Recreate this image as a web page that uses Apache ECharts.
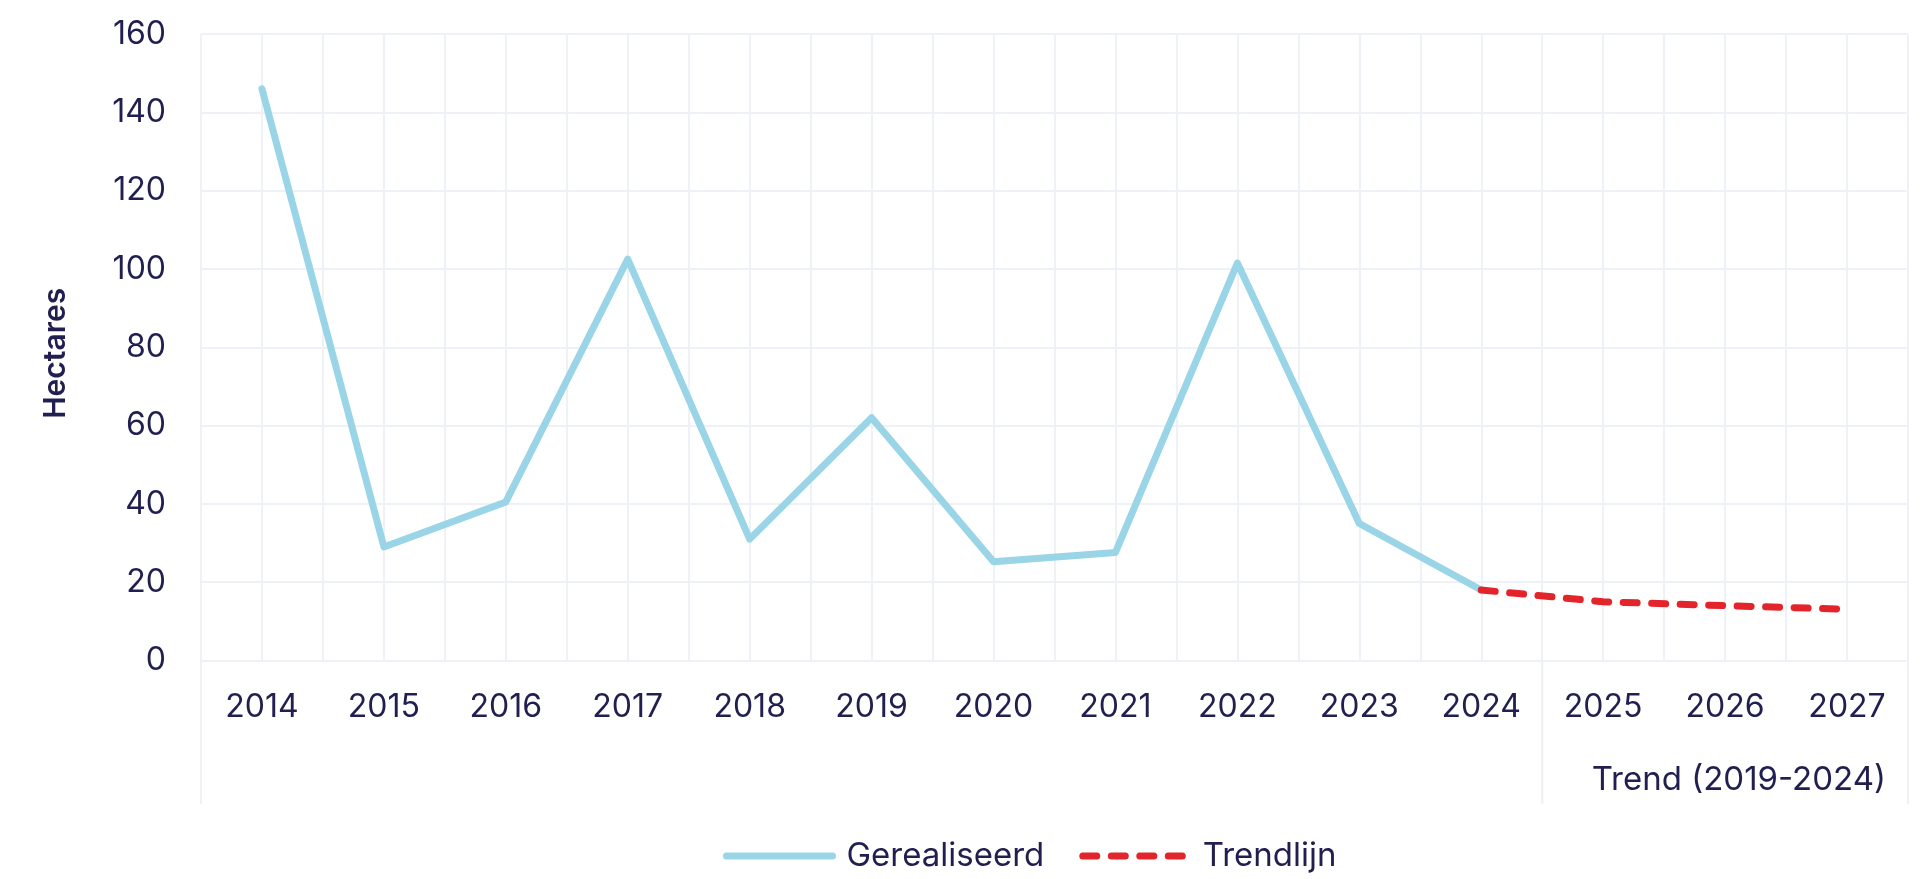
<!DOCTYPE html>
<html>
<head>
<meta charset="utf-8">
<title>Hectares</title>
<script src="https://cdn.jsdelivr.net/npm/echarts@6/dist/echarts.min.js"></script>
<style>
  html, body { margin: 0; padding: 0; background: #fff; }
  #chart { width: 1926px; height: 879px; }
</style>
</head>
<body>
<div id="chart"></div>
<script>
// data
const years = ['2014', '2015', '2016', '2017', '2018', '2019', '2020', '2021', '2022', '2023', '2024', '2025', '2026', '2027'];
const realised = [146, 29, 40.5, 102.5, 31, 62, 25.2, 27.6, 101.5, 35, 18];
const trendStart = 10; // trend starts at 2024
const trend = [18, 15, 14, 13.1];
// second level of the x axis (index ranges in years)
const groups = [
  { label: '', from: 0, to: 10 },
  { label: 'Trend (2019-2024)', from: 11, to: 13 }
];
const yMin = 0, yMax = 160, yStep = 20;

const textColor = '#211f4f';
const gridColor = '#eef1f6';
const blue = '#99d5e6';
const red = '#e3252b';
const dash = [14, 14.5];
const font = 'Inter, "Noto Sans", sans-serif';

const chart = echarts.init(document.getElementById('chart'));

chart.setOption({
  animation: false,
  textStyle: { fontFamily: font, color: textColor },
  grid: [
    { left: 201, right: 18, top: 34, height: 626.5 },
    { left: 201, right: 18, top: 660.5, height: 143.5 }
  ],
  legend: {
    left: 723,
    top: 838,
    padding: 0,
    itemWidth: 106,
    itemHeight: 14,
    itemGap: 35,
    itemStyle: { opacity: 0 },
    textStyle: { fontSize: 33, color: textColor, lineHeight: 36, padding: [0, 0, 0, 9] },
    data: [
      { name: 'Gerealiseerd', lineStyle: { width: 7, cap: 'round', color: blue } },
      { name: 'Trendlijn', lineStyle: { width: 7, cap: 'round', type: dash, color: red } }
    ]
  },
  xAxis: [
    {
      gridIndex: 0,
      type: 'value',
      min: -0.5,
      max: years.length - 0.5,
      interval: 0.5,
      axisLine: { show: false },
      axisTick: { show: false },
      splitLine: { show: true, lineStyle: { color: gridColor, width: 2 } },
      axisLabel: {
        fontSize: 32,
        color: textColor,
        margin: 31,
        formatter: (v) => Number.isInteger(v) ? years[v] : ''
      }
    },
    {
      gridIndex: 1,
      type: 'value',
      min: -0.5,
      max: years.length - 0.5,
      show: false
    }
  ],
  yAxis: [
    {
      gridIndex: 0,
      type: 'value',
      min: yMin,
      max: yMax,
      interval: yStep,
      name: 'Hectares',
      nameLocation: 'middle',
      nameRotate: 90,
      nameGap: 130,
      nameTextStyle: { fontSize: 30, fontWeight: 600, color: textColor, padding: [0, 12, 0, 0] },
      axisLine: { show: false },
      axisTick: { show: false },
      splitLine: { show: true, lineStyle: { color: gridColor, width: 2 } },
      axisLabel: { fontSize: 32, color: textColor, margin: 35 }
    },
    { gridIndex: 1, type: 'value', min: 0, max: 1, show: false }
  ],
  series: [
    {
      name: 'Gerealiseerd',
      type: 'line',
      xAxisIndex: 0,
      yAxisIndex: 0,
      symbol: 'none',
      color: blue,
      lineStyle: { width: 7, cap: 'round', join: 'round', color: blue },
      data: realised.map((v, i) => [i, v]),
      z: 3
    },
    {
      name: 'Trendlijn',
      type: 'line',
      xAxisIndex: 0,
      yAxisIndex: 0,
      symbol: 'none',
      color: red,
      lineStyle: { width: 7, type: dash, cap: 'round', color: red },
      data: trend.map((v, i) => [trendStart + i, v]),
      z: 4
    },
    {
      type: 'custom',
      xAxisIndex: 1,
      yAxisIndex: 1,
      silent: true,
      data: groups.map((g) => [g.from - 0.5, g.to + 0.5]),
      renderItem: (params, api) => {
        const cs = params.coordSys;
        const x0 = api.coord([api.value(0), 0])[0];
        const x1 = api.coord([api.value(1), 0])[0];
        const edge = (x) => ({
          type: 'line',
          shape: { x1: x, y1: cs.y, x2: x, y2: cs.y + cs.height },
          style: { stroke: gridColor, lineWidth: 2 }
        });
        return {
          type: 'group',
          children: [
            edge(x0),
            edge(x1),
            {
              type: 'text',
              x: x1 - 22,
              y: cs.y + cs.height - 24,
              style: {
                text: groups[params.dataIndex].label,
                fill: textColor,
                font: '33px ' + font,
                align: 'right',
                verticalAlign: 'middle'
              }
            }
          ]
        };
      }
    }
  ]
});
</script>
</body>
</html>
